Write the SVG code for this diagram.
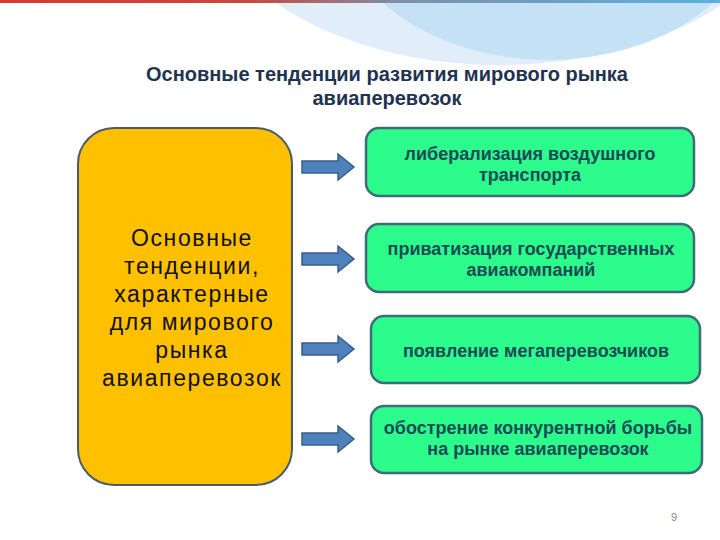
<svg xmlns="http://www.w3.org/2000/svg" width="720" height="540" viewBox="0 0 720 540">
<defs>
<linearGradient id="topline" x1="0" y1="0" x2="1" y2="0">
<stop offset="0" stop-color="#d9392f"/>
<stop offset="0.35" stop-color="#c8493f"/>
<stop offset="0.55" stop-color="#7f8fa8"/>
<stop offset="1" stop-color="#5ab0e0"/>
</linearGradient>
<clipPath id="clipTop"><rect x="0" y="0" width="720" height="540"/></clipPath>
<g id="arrow">
<path d="M0,-6 L36,-6 L36,-13 L52,0 L36,13 L36,6 L0,6 Z"/>
</g>
</defs>
<style>
.title{font-family:"Liberation Sans",Arial,sans-serif;font-weight:bold;font-size:20px;fill:#1f3350;text-anchor:middle}
.main{font-family:"Liberation Sans",Arial,sans-serif;font-size:23px;letter-spacing:1.6px;fill:#111;text-anchor:middle}
.gtext{font-family:"Liberation Sans",Arial,sans-serif;font-weight:bold;font-size:18px;fill:#1b4a55;text-anchor:middle}
.gbox{fill:#2bfc8c;stroke:#3d6d7a;stroke-width:2.5}
.arr{fill:#4f81bd;stroke:#385d8a;stroke-width:1.5}
</style>
<rect width="720" height="540" fill="#ffffff"/>
<g id="background" clip-path="url(#clipTop)">
<ellipse cx="500" cy="-120" rx="300" ry="185" fill="#e1edf9"/>
<ellipse cx="548" cy="-90" rx="210" ry="150" fill="#c5e1f5"/>
<rect x="0" y="0" width="720" height="3" fill="url(#topline)"/>
</g>
<g id="title">
<text class="title" x="387" y="81">Основные тенденции развития мирового рынка</text>
<text class="title" x="387" y="105">авиаперевозок</text>
</g>
<g id="main-node">
<rect x="78" y="128" width="214" height="357" rx="36" fill="#ffc000" stroke="#4a5b6a" stroke-width="2"/>
<text class="main" x="192" y="246">Основные</text>
<text class="main" x="192" y="274">тенденции,</text>
<text class="main" x="192" y="302">характерные</text>
<text class="main" x="192" y="330">для мирового</text>
<text class="main" x="192" y="358">рынка</text>
<text class="main" x="192" y="386">авиаперевозок</text>
</g>
<g id="connectors">
<use href="#arrow" class="arr" transform="translate(302,167)"/>
<use href="#arrow" class="arr" transform="translate(302,259)"/>
<use href="#arrow" class="arr" transform="translate(302,349)"/>
<use href="#arrow" class="arr" transform="translate(302,439)"/>
</g>
<g id="node1">
<rect class="gbox" x="366" y="128" width="328" height="68" rx="13"/>
<text class="gtext" x="530" y="160">либерализация воздушного</text>
<text class="gtext" x="530" y="181">транспорта</text>
</g>
<g id="node2">
<rect class="gbox" x="366" y="224" width="328" height="68" rx="13"/>
<text class="gtext" x="531" y="255">приватизация государственных</text>
<text class="gtext" x="531" y="276">авиакомпаний</text>
</g>
<g id="node3">
<rect class="gbox" x="371" y="316" width="329" height="67" rx="13"/>
<text class="gtext" x="536" y="357">появление мегаперевозчиков</text>
</g>
<g id="node4">
<rect class="gbox" x="371" y="406" width="331" height="67" rx="13"/>
<text class="gtext" x="538" y="434">обострение конкурентной борьбы</text>
<text class="gtext" x="538" y="455">на рынке авиаперевозок</text>
</g>
<text x="674" y="521" font-family="Liberation Sans, Arial, sans-serif" font-size="11" fill="#888" text-anchor="middle">9</text>
</svg>
